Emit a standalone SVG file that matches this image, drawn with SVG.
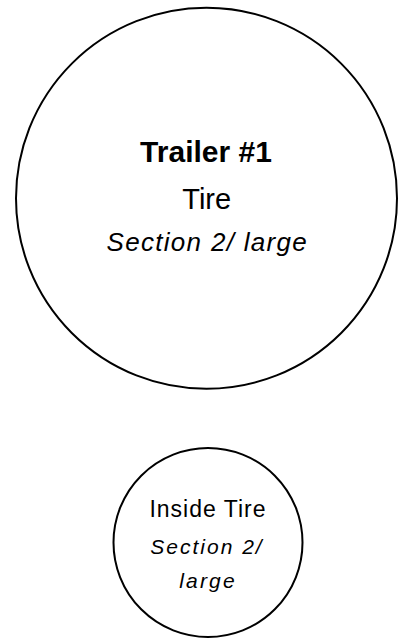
<svg xmlns="http://www.w3.org/2000/svg" width="404" height="640" viewBox="0 0 404 640">
  <style>
    .node { fill: #ffffff; stroke: #000000; stroke-width: 2; }
    .t { font-family: "Liberation Sans", Arial, sans-serif; fill: #000000; text-anchor: middle; }
    .b { font-weight: bold; }
    .i { font-style: italic; }
  </style>
  <rect width="404" height="640" fill="#ffffff"/>
  <g id="connectors"/>
  <g id="trailer-tire">
    <circle class="node" cx="206.5" cy="198.3" r="190.5"/>
    <text class="t b" x="206" y="161.7" font-size="30">Trailer #1</text>
    <text class="t" x="206.7" y="209.3" font-size="29">Tire</text>
    <text class="t i" x="207.3" y="250.7" font-size="26" letter-spacing="1.3">Section 2/ large</text>
  </g>
  <g id="inside-tire">
    <circle class="node" cx="208" cy="542.5" r="94.5"/>
    <text class="t" x="208" y="517.3" font-size="23" letter-spacing="1">Inside Tire</text>
    <text class="t i" x="207" y="554" font-size="21" letter-spacing="2">Section 2/</text>
    <text class="t i" x="208" y="588" font-size="21" letter-spacing="2.2">large</text>
  </g>
</svg>
